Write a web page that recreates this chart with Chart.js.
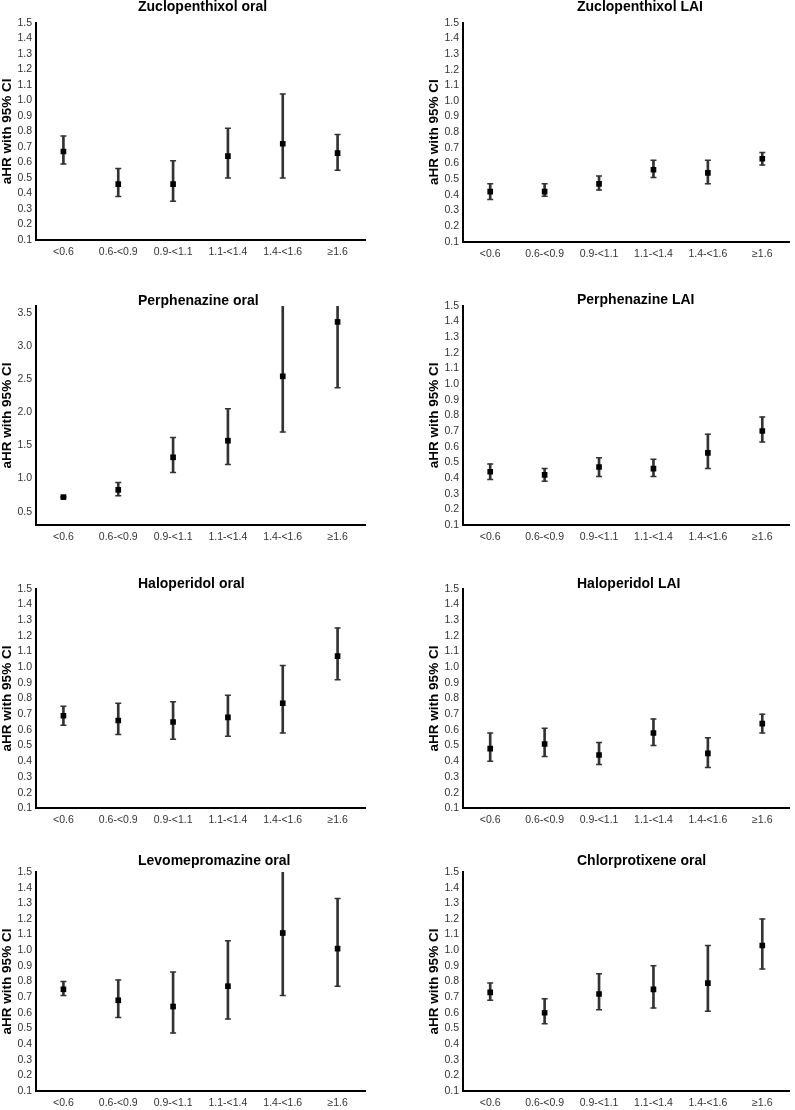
<!DOCTYPE html>
<html>
<head>
<meta charset="utf-8">
<script src="https://cdn.jsdelivr.net/npm/chart.js@4.4.1/dist/chart.umd.min.js"></script>
<style>
  html, body { margin: 0; padding: 0; background: #fff; overflow: hidden; }
  #wrap { position: relative; width: 795px; height: 1110px; overflow: hidden; background: #fff; }
  #wrap canvas { position: absolute; }
</style>
</head>
<body>
<div id="wrap"></div>
<script>
// dose categories (shared by all panels)
var categories = ['<0.6', '0.6-<0.9', '0.9-<1.1', '1.1-<1.4', '1.4-<1.6', '\u22651.6'];

// y tick labels
var ticksStd = [0.1, 0.2, 0.3, 0.4, 0.5, 0.6, 0.7, 0.8, 0.9, 1.0, 1.1, 1.2, 1.3, 1.4, 1.5];
var ticksPerph = [0.5, 1.0, 1.5, 2.0, 2.5, 3.0, 3.5];

// aHR, lower and upper 95% CI per panel
var zucOralHR = [0.67, 0.46, 0.46, 0.64, 0.72, 0.66];
var zucOralLo = [0.59, 0.38, 0.35, 0.50, 0.50, 0.55];
var zucOralHi = [0.77, 0.56, 0.61, 0.82, 1.04, 0.78];

var zucLaiHR = [0.42, 0.42, 0.47, 0.56, 0.54, 0.63];
var zucLaiLo = [0.37, 0.39, 0.43, 0.51, 0.47, 0.59];
var zucLaiHi = [0.47, 0.47, 0.52, 0.62, 0.62, 0.67];

var perOralHR = [0.72, 0.83, 1.32, 1.57, 2.54, 3.36];
var perOralLo = [0.71, 0.74, 1.09, 1.21, 1.70, 2.37];
var perOralHi = [0.73, 0.94, 1.62, 2.05, 4.30, 4.80];

var perLaiHR = [0.44, 0.42, 0.47, 0.46, 0.56, 0.70];
var perLaiLo = [0.39, 0.38, 0.41, 0.41, 0.46, 0.63];
var perLaiHi = [0.49, 0.46, 0.53, 0.52, 0.68, 0.79];

var halOralHR = [0.69, 0.66, 0.65, 0.68, 0.77, 1.07];
var halOralLo = [0.63, 0.57, 0.54, 0.56, 0.58, 0.92];
var halOralHi = [0.75, 0.77, 0.78, 0.82, 1.01, 1.25];

var halLaiHR = [0.48, 0.51, 0.44, 0.58, 0.45, 0.64];
var halLaiLo = [0.40, 0.43, 0.38, 0.50, 0.36, 0.58];
var halLaiHi = [0.58, 0.61, 0.52, 0.67, 0.55, 0.70];

var levOralHR = [0.75, 0.68, 0.64, 0.77, 1.11, 1.01];
var levOralLo = [0.71, 0.57, 0.47, 0.56, 0.71, 0.77];
var levOralHi = [0.80, 0.81, 0.86, 1.06, 1.60, 1.33];

var chlOralHR = [0.73, 0.60, 0.72, 0.75, 0.79, 1.03];
var chlOralLo = [0.68, 0.53, 0.62, 0.63, 0.61, 0.88];
var chlOralHi = [0.79, 0.69, 0.85, 0.90, 1.03, 1.20];

(function () {
  'use strict';

  var fontFamily = "'Liberation Sans', Arial, sans-serif";
  Chart.defaults.font.family = fontFamily;
  Chart.defaults.font.size = 10.5;
  Chart.defaults.color = '#333';

  var wrap = document.getElementById('wrap');

  // left-aligned bold panel title
  var panelTitle = {
    id: 'panelTitle',
    afterDraw: function (chart, _args, opts) {
      var ctx = chart.ctx;
      ctx.save();
      ctx.font = 'bold 14px ' + fontFamily;
      ctx.fillStyle = '#000';
      ctx.textAlign = 'left';
      ctx.textBaseline = 'middle';
      ctx.fillText(opts.text, opts.x, opts.y);
      ctx.restore();
    }
  };

  var panels = [
    { title: 'Zuclopenthixol oral', hr: zucOralHR, lo: zucOralLo, hi: zucOralHi, ticks: ticksStd, min: 0.1, max: 1.5, col: 0, top: 22.7, bottom: 240, titleY: 7.5 },
    { title: 'Zuclopenthixol LAI', hr: zucLaiHR, lo: zucLaiLo, hi: zucLaiHi, ticks: ticksStd, min: 0.1, max: 1.5, col: 1, top: 22.7, bottom: 241.7, titleY: 7.5 },
    { title: 'Perphenazine oral', hr: perOralHR, lo: perOralLo, hi: perOralHi, ticks: ticksPerph, min: 0.3, max: 3.6, col: 0, top: 306, bottom: 525, titleY: 300.7 },
    { title: 'Perphenazine LAI', hr: perLaiHR, lo: perLaiLo, hi: perLaiHi, ticks: ticksStd, min: 0.1, max: 1.5, col: 1, top: 305.7, bottom: 525, titleY: 300 },
    { title: 'Haloperidol oral', hr: halOralHR, lo: halOralLo, hi: halOralHi, ticks: ticksStd, min: 0.1, max: 1.5, col: 0, top: 588.7, bottom: 808.3, titleY: 584.3 },
    { title: 'Haloperidol LAI', hr: halLaiHR, lo: halLaiLo, hi: halLaiHi, ticks: ticksStd, min: 0.1, max: 1.5, col: 1, top: 588.7, bottom: 808.3, titleY: 584.3 },
    { title: 'Levomepromazine oral', hr: levOralHR, lo: levOralLo, hi: levOralHi, ticks: ticksStd, min: 0.1, max: 1.5, col: 0, top: 872, bottom: 1091, titleY: 861 },
    { title: 'Chlorprotixene oral', hr: chlOralHR, lo: chlOralLo, hi: chlOralHi, ticks: ticksStd, min: 0.1, max: 1.5, col: 1, top: 872, bottom: 1091, titleY: 861 }
  ];

  function makePanel(p) {
    var left = p.col === 0 ? 0 : 427;
    var width = p.col === 0 ? 400 : 368;
    var padRight = p.col === 0 ? 35 : 4;
    var titleX = p.col === 0 ? 138 : 150;
    var padTop = 24;
    var axisH = 26;
    var canvasTop = Math.floor(p.top - padTop);
    var plotTop = p.top - canvasTop;
    var plotH = p.bottom - p.top;
    var height = Math.ceil(plotTop + plotH + axisH);
    var padBottom = height - plotTop - plotH - axisH;

    var canvas = document.createElement('canvas');
    canvas.width = width;
    canvas.height = height;
    canvas.style.left = left + 'px';
    canvas.style.top = canvasTop + 'px';
    canvas.style.width = width + 'px';
    canvas.style.height = height + 'px';
    wrap.appendChild(canvas);

    new Chart(canvas, {
      type: 'bar',
      data: {
        labels: categories,
        datasets: [
          {
            type: 'line',
            data: p.hr,
            showLine: false,
            pointStyle: 'rect',
            pointRadius: 4,
            pointBorderWidth: 0,
            pointBackgroundColor: '#000',
            order: 1
          },
          {
            type: 'line',
            data: p.hi,
            showLine: false,
            pointStyle: 'line',
            pointRadius: 3,
            pointBorderWidth: 1.5,
            pointBorderColor: '#333',
            order: 2
          },
          {
            type: 'line',
            data: p.lo,
            showLine: false,
            pointStyle: 'line',
            pointRadius: 3,
            pointBorderWidth: 1.5,
            pointBorderColor: '#333',
            order: 2
          },
          {
            data: p.lo.map(function (l, i) { return [l, p.hi[i]]; }),
            backgroundColor: '#333',
            barThickness: 2,
            borderWidth: 0,
            order: 3
          }
        ]
      },
      options: {
        responsive: false,
        animation: false,
        events: [],
        layout: { padding: { top: plotTop, bottom: padBottom, left: 0, right: padRight } },
        plugins: {
          legend: { display: false },
          tooltip: { enabled: false },
          panelTitle: { text: p.title, x: titleX, y: p.titleY - canvasTop }
        },
        scales: {
          x: {
            grid: { display: false, drawTicks: false },
            border: { display: true, color: '#000', width: 2 },
            ticks: { padding: 6, color: '#333', autoSkip: false, maxRotation: 0 },
            afterFit: function (s) { s.height = axisH; }
          },
          y: {
            min: p.min,
            max: p.max,
            beginAtZero: false,
            grid: { display: false, drawTicks: false },
            border: { display: true, color: '#000', width: 2 },
            ticks: {
              padding: 4,
              color: '#333',
              autoSkip: false,
              callback: function (v) { return Number(v).toFixed(1); }
            },
            afterBuildTicks: function (s) {
              s.ticks = p.ticks.map(function (v) { return { value: v }; });
            },
            afterFit: function (s) { s.width = 36; },
            title: {
              display: true,
              text: 'aHR with 95% CI',
              color: '#000',
              font: { size: 13.5, weight: 'bold', lineHeight: 1.1 },
              padding: { top: 0, bottom: 0 }
            }
          }
        }
      },
      plugins: [panelTitle]
    });
  }

  panels.forEach(makePanel);
})();
</script>
</body>
</html>
